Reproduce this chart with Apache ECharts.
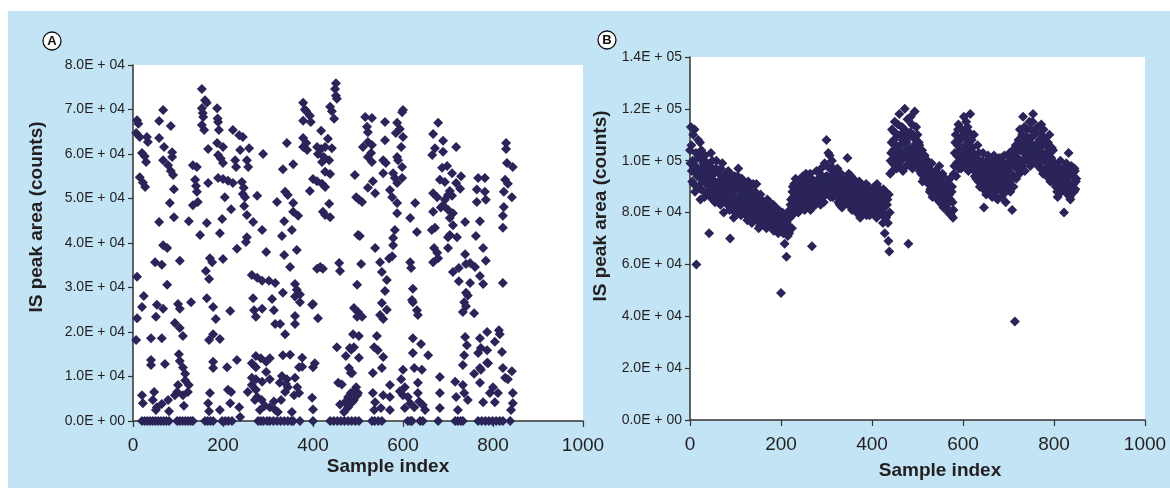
<!DOCTYPE html>
<html lang="en">
<head>
    <meta charset="UTF-8">
    <script src="https://cdn.jsdelivr.net/npm/echarts@6/dist/echarts.min.js"></script>
    <style>
        html, body { margin: 0; padding: 0; background: #fff; }
        #chart { position: absolute; left: 8px; top: 11px; width: 1162px; height: 477px; }
    </style>
</head>
<body>
<div id="chart"></div>
<script>
// Panel A: [sample index, IS peak area in thousands of counts]
var pointsA = [
    [9,67.6],[12,66.8],[7,64.7],[15,63.8],[31,63.8],[33,62.7],[20,60.2],[26,59.5],[29,58.2],[15,54.8],[22,53.6],[27,52.6],
    [67,69.9],[58,67.4],[84,66.3],[58,63.6],[69,61.6],[87,60.4],[87,59.3],[67,58.6],[78,57.5],[84,56.2],[89,55.3],[91,52.1],[82,49.0],[91,45.8],[58,44.7],
    [153,74.6],[160,72.1],[164,71.5],[153,70.3],[155,69.2],[156,68.3],[153,66.5],[158,65.4],
    [187,70.3],[188,68.0],[189,67.2],[191,65.4],[167,61.1],[187,62.5],[200,61.6],[189,59.8],[195,59.0],[200,58.0],
    [133,57.5],[142,57.1],[138,54.2],[140,52.8],[142,51.5],[133,48.5],[144,49.2],[167,53.5],
    [189,54.6],[200,54.4],[211,54.0],[222,53.5],[227,58.6],[229,57.1],[222,65.4],[236,64.2],[244,63.8],[238,60.9],[258,61.3],[253,58.6],[256,57.1],
    [242,53.7],[246,52.4],[244,51.0],[249,50.3],[276,50.6],[204,50.3],[218,47.6],[247,48.3],[253,46.3],[267,44.7],[287,42.9],[198,45.4],[164,44.5],[124,44.9],[149,41.8],[193,42.2],[253,41.3],
    [289,60.0],[342,62.5],[333,56.6],[356,57.7],[338,51.5],[344,50.8],[320,49.2],[356,49.0],[356,47.0],[367,46.1],[336,44.9],[353,42.9],[331,41.6],
    [378,71.5],[382,70.0],[385,69.6],[393,68.6],[378,67.5],[395,67.2],[378,63.6],[385,62.5],[378,61.6],[387,60.9],
    [418,65.2],[433,63.4],[409,61.6],[418,61.1],[427,61.6],[442,61.3],[411,60.0],[424,59.3],[436,58.6],[420,58.2],[427,56.0],[438,55.5],[400,54.4],[409,53.9],[420,53.3],[427,52.6],[393,51.7],[422,47.0],[427,46.3],[438,45.8],[436,48.8],
    [451,75.9],[449,74.6],[451,73.1],[453,72.4],[438,70.6],[442,69.6],[447,67.9],[493,55.3],[496,50.3],[500,41.8],
    [516,68.3],[531,68.1],[520,66.1],[522,64.9],[522,62.7],[531,62.0],[511,61.6],[529,60.2],[522,59.3],[531,58.2],
    [560,67.2],[560,63.1],[556,58.6],[562,58.0],[556,55.7],[578,55.7],[582,54.6],[598,54.6],[587,53.5],[598,57.1],[596,61.6],[587,59.3],[589,58.6],
    [598,69.4],[600,69.9],[587,67.0],[593,65.6],[584,64.7],[600,63.8],
    [502,49.8],[509,49.2],[522,52.4],[538,51.2],[533,53.9],[571,51.9],[576,50.3],[587,49.0],[587,46.7],[627,49.0],[616,45.6],[631,42.5],[582,42.9],[578,41.1],[504,41.6],
    [678,67.0],[667,64.5],[689,63.0],[671,61.3],[689,60.5],[665,59.8],[718,61.6],
    [687,56.9],[698,57.3],[682,54.2],[693,53.7],[709,55.7],[729,55.0],[718,53.5],[727,52.2],[704,51.7],[700,50.8],[709,50.6],
    [667,51.2],[676,50.3],[693,49.7],[689,48.5],[700,47.5],[684,48.0],[711,46.7],[667,47.0],[704,45.6],[711,44.0],[738,44.7],[671,43.4],[704,41.8],[720,41.3],
    [767,54.6],[782,54.6],[764,52.0],[782,51.5],[764,49.2],[784,49.7],[771,44.9],[762,41.6],
    [829,62.5],[829,61.1],[831,58.0],[844,57.1],[827,54.2],[833,53.3],[824,51.5],[842,50.3],[824,48.1],[822,46.1],[822,43.4],
    [67,39.5],[76,38.9],[49,35.7],[64,35.1],[104,36.0],[9,32.4],[76,30.6],[171,36.6],[176,35.7],[200,36.4],[162,33.7],[169,31.9],[231,38.7],[251,40.2],
    [296,38.0],[336,37.3],[364,38.4],[349,34.6],
    [264,32.8],[276,32.2],[287,31.5],[302,31.5],[316,31.0],[360,30.8],[364,29.5],[371,28.4],[360,28.0],[371,26.7],[333,28.8],
    [409,34.2],[416,34.6],[422,34.2],[458,35.5],[460,33.7],[498,30.6],
    [24,28.1],[20,25.6],[53,26.1],[67,25.2],[100,26.3],[104,25.2],[129,26.7],[9,23.1],[51,23.4],[93,22.0],[104,20.9],[111,19.1],
    [164,27.6],[178,25.6],[184,22.9],[216,24.7],
    [267,27.6],[269,24.9],[273,23.4],[287,25.2],[309,27.4],[313,24.9],[316,21.8],[327,21.8],[338,19.5],[360,23.6],[360,21.8],[398,26.1],[400,26.3],[411,23.1],
    [7,18.2],[40,18.6],[64,18.6],[169,18.2],[178,19.5],[193,18.4],
    [491,25.4],[498,23.4],[502,19.1],
    [102,15.0],[104,13.5],[111,12.0],[116,10.6],[40,13.7],[40,12.6],[71,12.8],[178,13.3],[178,11.9],[209,12.1],[231,13.7],
    [264,13.0],[273,14.6],[284,14.1],[296,13.3],[304,14.1],[264,9.7],[273,9.4],[287,8.8],[304,9.4],[273,12.1],[296,11.0],
    [333,14.8],[349,14.9],[331,10.1],[342,9.4],[360,9.7],
    [376,14.2],[369,12.1],[376,12.2],[400,12.1],[404,13.0],
    [453,16.6],[473,14.6],[480,11.9],[485,16.0],[484,10.8],[502,14.2],
    [20,5.8],[22,4.0],[47,6.5],[44,4.7],[53,3.1],[64,3.8],[51,2.5],[78,4.7],[80,2.2],
    [98,6.5],[93,5.8],[100,8.1],[111,5.8],[116,9.1],[122,6.5],[124,8.1],[113,3.4],
    [171,6.3],[167,4.0],[169,2.2],[193,2.5],
    [211,7.0],[218,6.5],[216,4.0],[236,3.1],[238,0.9],
    [255,6.5],[264,8.1],[273,7.0],[276,5.4],[271,4.7],[286,4.7],[293,3.4],[282,2.5],[304,3.1],[313,4.4],[316,2.5],[322,2.0],[329,4.7],[338,6.5],[344,7.6],[326,8.6],[340,8.3],[353,2.0],[365,7.6],[369,6.3],[358,5.8],[398,5.2],[400,2.6],
    [456,8.6],[464,8.2],[460,3.7],[471,4.2],[478,5.4],[484,6.3],[496,7.6],[500,6.3],[478,3.1],[469,2.0],
    [538,38.9],[578,39.5],[664,42.9],[669,38.9],[676,37.8],[678,36.6],[667,35.7],[700,41.3],[700,38.9],[778,38.9],[784,36.0],[738,37.5],[740,35.3],[749,35.5],[760,34.6],
    [507,35.3],[549,35.7],[553,33.5],[569,36.5],[576,37.0],[616,35.7],[618,34.4],[564,31.7],[560,29.2],
    [622,29.7],[620,27.2],[622,26.7],
    [711,33.5],[724,34.4],[724,31.4],[749,31.0],[771,32.6],[778,30.8],[822,31.0],
    [740,28.8],[744,28.2],[736,26.7],[740,25.8],[733,24.5],[758,24.2],
    [500,24.5],[509,23.4],[553,26.5],[564,25.0],[549,23.8],[556,22.9],[631,24.9],[633,23.8],
    [489,19.5],[491,16.6],[482,16.4],[542,19.1],[536,16.6],[544,15.9],[556,14.4],
    [622,18.6],[640,17.3],[622,15.3],[656,14.8],
    [738,18.9],[742,17.0],[736,14.8],[733,12.6],
    [771,18.6],[773,16.4],[787,15.9],[767,15.3],[787,13.1],[773,11.5],[758,10.6],
    [787,20.0],[813,20.4],[815,19.5],[804,17.8],[820,15.5],
    [487,10.8],[491,6.7],[498,5.8],[491,4.7],[487,4.2],
    [533,10.8],[553,11.9],[533,6.3],[556,5.8],[571,5.4],[538,4.2],[536,2.5],[551,2.9],[571,2.5],[571,8.1],
    [600,11.5],[596,9.4],[604,7.6],[593,6.7],[600,5.8],[611,5.4],[616,4.0],[604,2.9],
    [625,11.9],[642,11.5],[633,8.6],[633,6.3],[636,4.4],[625,3.1],[644,3.6],[649,2.5],
    [682,9.9],[682,6.3],[682,2.9],
    [716,8.8],[733,8.1],[736,6.3],[718,5.4],[722,2.5],[744,4.7],
    [771,11.9],[789,13.0],[771,8.6],[793,6.3],[778,4.2],[804,4.2],[800,7.6],[811,6.3],[822,11.9],[827,9.7],[833,9.4],[842,11.2],[844,6.3],[844,4.0],[840,2.5]
];

// Panel A: samples sitting on the zero line
var zeroIdxA = [
    20, 26, 32, 38, 44, 50, 56, 62, 68, 74, 80,
    98, 104, 110, 116, 122, 128, 133,
    160, 166, 172, 178, 198, 205, 212, 220,
    278, 284, 290, 298, 304, 312, 320, 328, 336, 344, 352, 356, 371, 400,
    438, 446, 454, 462, 470, 478, 486, 494, 502,
    531, 537, 545, 553, 611, 617, 620, 638, 644, 678,
    716, 722, 728, 733, 767, 775, 783, 791, 799, 807, 815, 822, 838
];

// Panel B, thousands of counts: even samples (0, 2 ... 848)
var valuesBEven = [
    104, 113, 96, 100, 91, 112, 98, 60, 94, 108,
    102, 107, 89, 97, 93, 100, 86, 95, 91, 99,
    88, 72, 94, 103, 90, 85, 96, 92, 87, 100,
    91, 84, 95, 89, 97, 86, 92, 80, 94, 88,
    90, 83, 96, 87, 70, 92, 85, 89, 78, 94,
    86, 91, 82, 97, 84, 88, 79, 93, 83, 87,
    81, 90, 85, 77, 92, 83, 80, 88, 76, 84,
    82, 86, 79, 91, 77, 84, 81, 75, 85, 80,
    78, 83, 76, 81, 74, 85, 79, 77, 82, 75,
    80, 76, 73, 79, 82, 75, 78, 72, 77, 74,
    49, 76, 79, 73, 68, 77, 63, 75, 80, 72,
    78, 85, 74, 90, 82, 88, 93, 84, 87, 80,
    91, 85, 89, 83, 94, 87, 81, 90, 86, 92,
    84, 88, 95, 82, 67, 89, 86, 91, 83, 96,
    88, 93, 85, 90, 97, 87, 92, 84, 99, 89,
    108, 94, 103, 88, 97, 91, 100, 86, 95, 90,
    93, 87, 97, 84, 91, 88, 95, 82, 89, 86,
    92, 85, 88, 101, 83, 90, 86, 94, 81, 88,
    84, 91, 87, 80, 89, 85, 92, 78, 86, 83,
    90, 82, 87, 85, 79, 89, 84, 88, 81, 86,
    83, 89, 80, 87, 85, 78, 88, 82, 86, 84,
    81, 87, 76, 84, 72, 88, 79, 85, 69, 65,
    95, 103, 112, 99, 108, 115, 101, 97, 110, 104,
    118, 106, 100, 113, 96, 109, 120, 102, 107, 116,
    68, 104, 111, 99, 114, 105, 101, 119, 108, 103,
    110, 98, 106, 101, 95, 104, 99, 93, 102, 97,
    94, 100, 91, 97, 89, 96, 92, 87, 95, 90,
    88, 93, 85, 91, 98, 86, 90, 83, 94, 87,
    84, 89, 82, 92, 80, 87, 85, 79, 90, 78,
    95, 103, 110, 99, 106, 114, 101, 108, 97, 112,
    104, 117, 99, 109, 102, 113, 96, 107, 118, 101,
    105, 98, 110, 94, 102, 97, 106, 92, 100, 95,
    99, 93, 103, 82, 96, 91, 100, 88, 97, 94,
    90, 98, 86, 95, 102, 92, 88, 97, 85, 93,
    96, 89, 101, 94, 87, 99, 92, 84, 97, 90,
    95, 103, 88, 98, 81, 100, 94, 38, 106, 97,
    101, 108, 95, 104, 99, 110, 117, 103, 96, 107,
    112, 100, 106, 115, 98, 109, 104, 118, 102, 111,
    105, 99, 113, 101, 108, 97, 114, 103, 95, 109,
    100, 106, 94, 103, 98, 110, 92, 101, 96, 104,
    93, 99, 90, 97, 86, 95, 91, 100, 88, 94,
    97, 80, 92, 89, 96, 87, 103, 91, 85, 98,
    90, 94, 88, 96, 92
];

// Panel B, thousands of counts: odd samples (1, 3 ... 849)
var valuesBOdd = [
    99, 106, 92, 110, 97, 88, 103, 95, 101, 90,
    96, 85, 104, 92, 99, 88, 102, 94, 87, 97,
    93, 98, 86, 91, 100, 89, 95, 84, 97, 90,
    87, 96, 90, 83, 93, 99, 85, 91, 88, 95,
    85, 93, 88, 81, 95, 86, 91, 83, 89, 80,
    90, 84, 94, 80, 89, 85, 92, 81, 86, 90,
    86, 79, 88, 83, 78, 90, 82, 86, 80, 91,
    78, 88, 83, 80, 86, 74, 82, 87, 78, 83,
    81, 77, 84, 79, 82, 76, 80, 84, 78, 81,
    77, 83, 79, 75, 80, 77, 74, 81, 76, 79,
    75, 80, 72, 77, 74, 79, 76, 71, 78, 81,
    83, 79, 88, 86, 91, 80, 85, 89, 82, 92,
    87, 93, 82, 88, 85, 91, 84, 95, 88, 83,
    90, 86, 81, 93, 87, 84, 92, 85, 89, 87,
    91, 86, 95, 83, 89, 94, 86, 91, 87, 94,
    98, 89, 93, 102, 86, 94, 89, 97, 92, 87,
    89, 94, 86, 92, 83, 90, 87, 93, 85, 91,
    87, 93, 84, 89, 95, 86, 91, 84, 89, 93,
    88, 83, 90, 86, 82, 91, 84, 88, 80, 90,
    85, 88, 81, 91, 86, 83, 90, 79, 87, 84,
    88, 84, 90, 82, 87, 91, 83, 86, 89, 80,
    85, 79, 89, 82, 86, 78, 83, 76, 87, 80,
    100, 107, 96, 104, 111, 98, 106, 102, 114, 99,
    103, 110, 97, 108, 101, 112, 104, 98, 111, 105,
    109, 100, 117, 102, 97, 110, 106, 99, 113, 101,
    103, 107, 96, 100, 98, 92, 101, 95, 99, 94,
    98, 92, 95, 88, 93, 99, 86, 93, 89, 96,
    92, 86, 95, 89, 84, 92, 87, 95, 82, 90,
    88, 83, 91, 86, 81, 93, 80, 88, 84, 81,
    98, 107, 94, 102, 112, 97, 104, 99, 109, 103,
    110, 100, 106, 115, 98, 104, 111, 100, 103, 108,
    99, 103, 96, 101, 93, 99, 95, 103, 90, 98,
    95, 100, 89, 98, 93, 87, 96, 102, 91, 99,
    94, 88, 100, 91, 96, 86, 99, 93, 90, 101,
    92, 98, 86, 96, 91, 102, 88, 95, 99, 93,
    99, 92, 101, 95, 104, 90, 98, 102, 93, 100,
    104, 97, 112, 100, 106, 98, 108, 113, 101, 105,
    103, 109, 100, 107, 112, 101, 115, 106, 110, 99,
    111, 102, 107, 98, 104, 110, 100, 106, 112, 101,
    97, 103, 99, 107, 95, 101, 97, 105, 93, 99,
    96, 91, 98, 88, 94, 92, 97, 89, 95, 91,
    92, 95, 88, 99, 93, 90, 96, 86, 94, 89,
    95, 91, 97, 89, 93
];

var xTicks = { min: 0, max: 1000, step: 200 };

var dataA = pointsA.map(function (p) { return [p[0], p[1] * 1000]; })
    .concat(zeroIdxA.map(function (i) { return [i, 0]; }));
var dataB = valuesBEven.map(function (v, i) { return [i * 2, v * 1000]; })
    .concat(valuesBOdd.map(function (v, i) { return [i * 2 + 1, v * 1000]; }));

var navy = '#2a2459';
var ink = '#231f20';
var font = 'Liberation Sans, Arial, sans-serif';

// 8.0E + 04 style labels
function sci(v) {
    if (v === 0) return '0.0E + 00';
    var e = Math.floor(Math.log10(v) + 1e-9);
    var m = v / Math.pow(10, e);
    return m.toFixed(1) + 'E + ' + (e < 10 ? '0' + e : e);
}

function xAxisOpt(idx) {
    return {
        gridIndex: idx, type: 'value', min: xTicks.min, max: xTicks.max, interval: xTicks.step,
        axisLine: { lineStyle: { color: '#333', width: 1.5 } },
        axisTick: { length: 6, lineStyle: { color: '#333', width: 1.2 } },
        axisLabel: { color: ink, fontSize: 19, fontFamily: font, margin: 15, formatter: function (v) { return String(v); } },
        splitLine: { show: false }
    };
}

function yAxisOpt(idx, max, step) {
    return {
        gridIndex: idx, type: 'value', min: 0, max: max, interval: step,
        axisLine: { show: true, lineStyle: { color: '#333', width: 1.5 } },
        axisTick: { show: true, length: 5, lineStyle: { color: '#333', width: 1.2 } },
        axisLabel: { color: ink, fontSize: 14, fontFamily: font, margin: 8, formatter: sci },
        splitLine: { show: false }
    };
}

function titleText(x, y, text, vertical) {
    return {
        type: 'text', x: x, y: y, rotation: vertical ? Math.PI / 2 : 0,
        style: { text: text, fill: ink, font: 'bold 19px ' + font, textAlign: 'center', textVerticalAlign: 'middle' }
    };
}

function panelTag(x, y, letter) {
    return [
        { type: 'circle', shape: { cx: x, cy: y, r: 9 }, style: { fill: '#fff', stroke: '#111', lineWidth: 1.3 } },
        { type: 'text', x: x, y: y + 0.5, style: { text: letter, fill: '#111', font: 'bold 13px ' + font, textAlign: 'center', textVerticalAlign: 'middle' } }
    ];
}

var chart = echarts.init(document.getElementById('chart'));

chart.setOption({
    backgroundColor: '#c2e4f5',
    animation: false,
    grid: [
        { left: 125, top: 54, width: 450, height: 356, show: true, backgroundColor: '#fff', borderWidth: 0 },
        { left: 682, top: 46, width: 455, height: 363, show: true, backgroundColor: '#fff', borderWidth: 0 }
    ],
    xAxis: [xAxisOpt(0), xAxisOpt(1)],
    yAxis: [yAxisOpt(0, 80000, 10000), yAxisOpt(1, 140000, 20000)],
    series: [
        {
            type: 'scatter', xAxisIndex: 0, yAxisIndex: 0, data: dataA,
            symbol: 'diamond', symbolSize: 10, clip: false,
            itemStyle: { color: navy, opacity: 1 }
        },
        {
            type: 'scatter', xAxisIndex: 1, yAxisIndex: 1, data: dataB,
            symbol: 'diamond', symbolSize: 10, clip: false,
            itemStyle: { color: navy, opacity: 1 }
        }
    ],
    graphic: [
        titleText(29, 206, 'IS peak area (counts)', true),
        titleText(380, 456, 'Sample index', false),
        titleText(593, 195, 'IS peak area (counts)', true),
        titleText(932, 460, 'Sample index', false)
    ].concat(panelTag(44, 30, 'A'), panelTag(599, 29, 'B'))
});
</script>
</body>
</html>
